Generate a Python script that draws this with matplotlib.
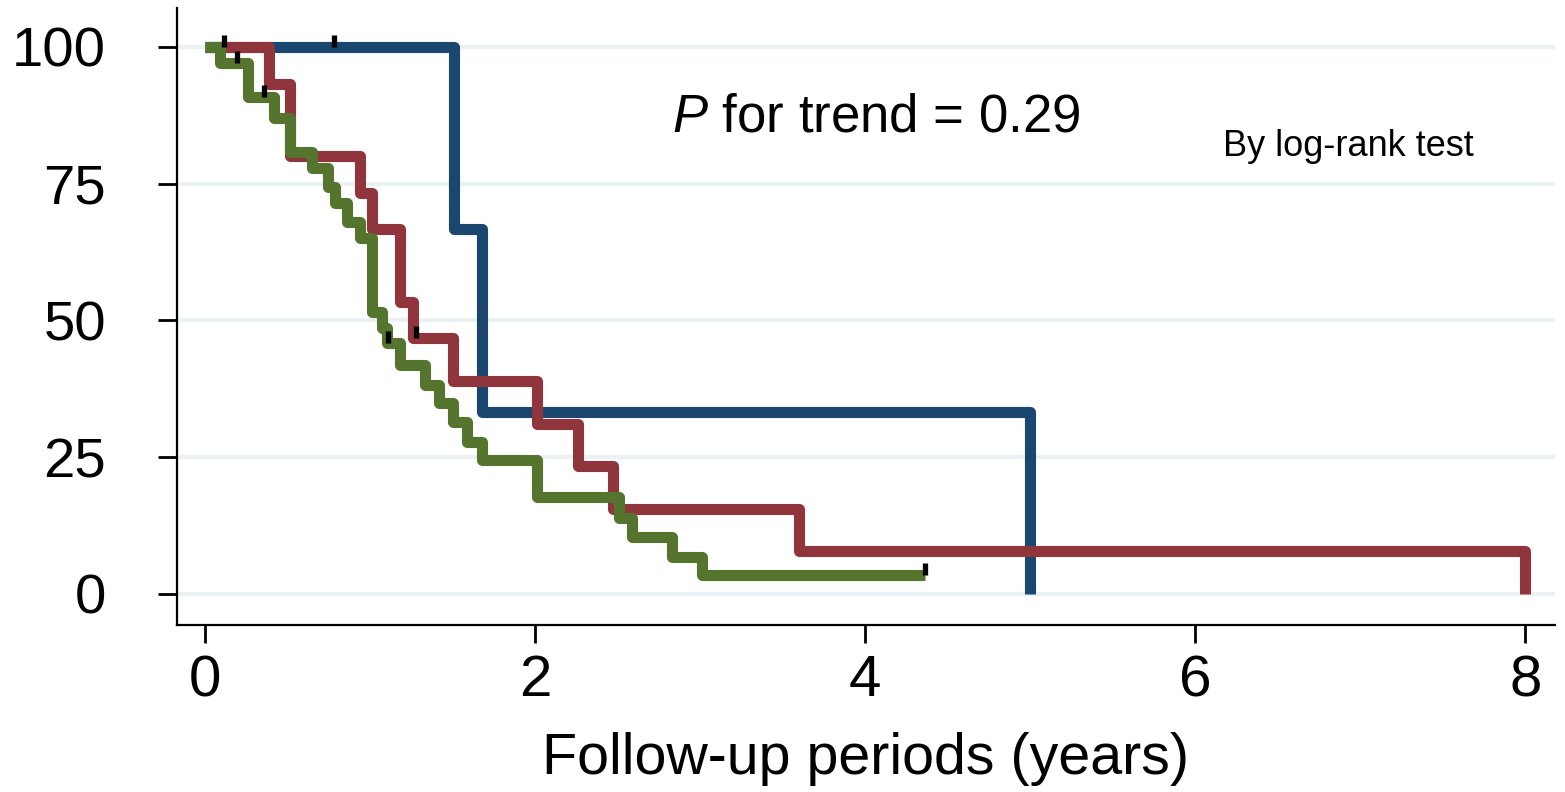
import matplotlib
matplotlib.use("Agg")
import matplotlib.pyplot as plt

plt.rcParams['font.family'] = ['Liberation Sans', 'DejaVu Sans']
plt.rcParams['mathtext.fontset'] = 'custom'
plt.rcParams['mathtext.rm'] = 'Liberation Sans'
plt.rcParams['mathtext.it'] = 'Liberation Sans:italic'

# ---- data ----
blue_t = [0, 1.51, 1.68, 5.0]
blue_s = [100, 66.7, 33.3, 0]
blue_cens_t = [0.78]
blue_cens_s = [100]

red_t = [0, 0.39, 0.515, 0.94, 1.01, 1.18, 1.26, 1.50, 2.01, 2.26, 2.47, 3.60, 8.0]
red_s = [100, 93.3, 80.0, 73.3, 66.7, 53.3, 46.7, 38.9, 31.1, 23.3, 15.6, 7.8, 0]
red_cens_t = [0.115, 1.28]
red_cens_s = [100, 46.7]

green_t = [0, 0.09, 0.26, 0.42, 0.515, 0.65, 0.745, 0.785, 0.86, 0.94, 1.01,
           1.075, 1.10, 1.18, 1.33, 1.42, 1.50, 1.59, 1.68, 2.01, 2.51, 2.59,
           2.83, 3.01]
green_s = [100, 97.1, 90.9, 87.0, 80.8, 77.9, 74.4, 71.5, 68.0, 65.0, 51.6,
           48.6, 45.9, 41.9, 38.2, 34.9, 31.4, 27.8, 24.5, 17.7, 13.9, 10.4,
           6.8, 3.5]
green_end = 4.36
green_cens_t = [0.195, 0.36, 1.11, 4.36]
green_cens_s = [97.1, 90.9, 45.9, 3.5]

x_ticks = [0, 2, 4, 6, 8]
y_ticks = [0, 25, 50, 75, 100]

BLUE = '#1a476f'
RED = '#90353b'
GREEN = '#55752f'
GRID = '#eaf2f3'

fig = plt.figure(figsize=(15.65, 7.92), dpi=100)
ax = fig.add_axes([177/1565, (792-625)/792, (1555-177)/1565, (625-8)/792])

ax.set_xlim(-0.17, 8.18)
ax.set_ylim(-5.67, 107.1)

for y in y_ticks:
    ax.axhline(y, color=GRID, lw=3, zorder=0)

lw = 8.0
def km(t, s, end, color, z):
    tt = list(t) + [end]
    ss = list(s) + [s[-1]]
    ax.step(tt, ss, where='post', color=color, lw=lw, zorder=z,
            solid_joinstyle='round', solid_capstyle='butt')

km(blue_t, blue_s, blue_t[-1], BLUE, 2)
km(red_t, red_s, red_t[-1], RED, 3)
km(green_t, green_s, green_end, GREEN, 4)

for ct, cs in [(blue_cens_t, blue_cens_s), (red_cens_t, red_cens_s),
               (green_cens_t, green_cens_s)]:
    ax.vlines(ct, [v for v in cs], [v + 2.2 for v in cs], color='black',
              lw=3.8, zorder=6)

ax.set_xticks(x_ticks)
ax.set_yticks(y_ticks)
ax.set_xticklabels([str(v) for v in x_ticks])
ax.set_yticklabels([str(v) for v in y_ticks])
ax.tick_params(axis='y', length=14, width=2, pad=37, labelsize=40.5)
ax.tick_params(axis='x', length=13, width=2, pad=8, labelsize=42)
for s in ['top', 'right']:
    ax.spines[s].set_visible(False)
for s in ['left', 'bottom']:
    ax.spines[s].set_linewidth(1.6)

ax.set_xlabel('Follow-up periods (years)', fontsize=41.3, labelpad=17)

fig.text(672/1565, (792-117)/792, r'$\mathit{P}$ for trend = 0.29', fontsize=38,
         ha='left', va='center')
fig.text(1223/1565, (792-146)/792, 'By log-rank test', fontsize=26,
         ha='left', va='center')

fig.savefig('out.png', dpi=100)
